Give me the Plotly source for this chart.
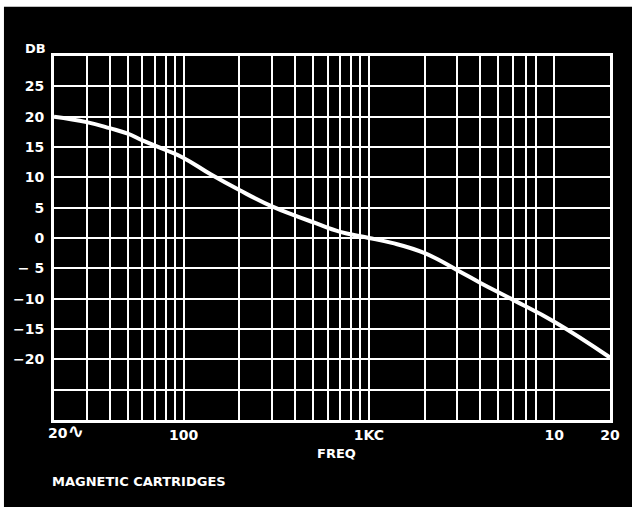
# Frequency response curve for magnetic cartridges, white on black

import numpy as np
import plotly.graph_objects as go

# curve (Hz, dB)
freq = [20, 30, 40, 50, 60, 80, 100, 140, 200, 300, 400, 500, 700, 900,
        1000, 1330, 2000, 3000, 4000, 6000, 10000, 20000]
db = [20, 19.1, 18.1, 17.2, 16.1, 14.5, 13.2, 10.5, 7.9, 5.2, 3.7, 2.6, 1.0, 0.3,
      0, -0.8, -2.5, -5.3, -7.4, -10.2, -13.8, -19.7]

# vertical grid lines and their labels
grid_freq = [20, 30, 40, 50, 60, 70, 80, 90,
             100, 200, 300, 400, 500, 600, 700, 800, 900,
             1000, 2000, 3000, 4000, 5000, 6000, 7000, 8000,
             10000, 20000]
grid_text = {100: '100', 1000: '1KC', 10000: '10', 20000: '20'}

# horizontal grid lines and labels
db_ticks = [30, 25, 20, 15, 10, 5, 0, -5, -10, -15, -20, -25, -30]
db_text = {25: '25', 20: '20', 15: '15', 10: '10', 5: '5', 0: '0',
           -5: '\u2212 5', -10: '\u221210', -15: '\u221215', -20: '\u221220'}

font = dict(family='DejaVu Sans', size=14, color='white', weight='bold')
small = dict(family='DejaVu Sans', size=13, color='white', weight='bold')

fig = go.Figure(go.Scatter(x=freq, y=db, mode='lines',
                           line=dict(color='white', width=4, shape='spline', smoothing=1.3),
                           hoverinfo='skip'))

fig.update_layout(
    width=632, height=507,
    margin=dict(l=54, r=18, t=56, b=87),
    paper_bgcolor='white',
    plot_bgcolor='black',
    showlegend=False,
    font=font,
    shapes=[dict(type='rect', xref='paper', yref='paper', layer='below',
                 x0=-0.09, x1=1.05, y0=-0.3, y1=1.135,
                 fillcolor='black', line_width=0)],
    annotations=[
        dict(text='DB', xref='paper', yref='paper', x=-0.01, y=1.02,
             xanchor='right', yanchor='middle', showarrow=False, font=small),
        dict(text="20<span style='font-size:20px'>\u223f</span>", xref='x', yref='paper',
             x=np.log10(20), y=-0.03, xanchor='left', yanchor='middle', xshift=-8,
             showarrow=False, font=font),
        dict(text='FREQ', xref='paper', yref='paper', x=0.508, y=-0.093,
             xanchor='center', yanchor='middle', showarrow=False, font=small),
        dict(text='MAGNETIC CARTRIDGES', xref='paper', yref='paper', x=-0.008, y=-0.168,
             xanchor='left', yanchor='middle', showarrow=False, font=small),
    ],
)

fig.update_xaxes(type='log', range=[np.log10(20), np.log10(20000)],
                 tickvals=grid_freq,
                 ticktext=[grid_text.get(f, '') for f in grid_freq],
                 ticks='', showgrid=True, gridcolor='white', gridwidth=2,
                 showline=True, linecolor='white', linewidth=3, mirror=True,
                 zeroline=False, tickfont=font)
fig.update_yaxes(range=[-30, 30],
                 tickvals=db_ticks,
                 ticktext=[db_text.get(v, '') for v in db_ticks],
                 ticks='', showgrid=True, gridcolor='white', gridwidth=2,
                 showline=True, linecolor='white', linewidth=3, mirror=True,
                 zeroline=False, tickfont=font, ticklabelstandoff=4)

fig.write_html("out.html", config={'displayModeBar': False},
               post_script="document.body.style.margin='0';")
